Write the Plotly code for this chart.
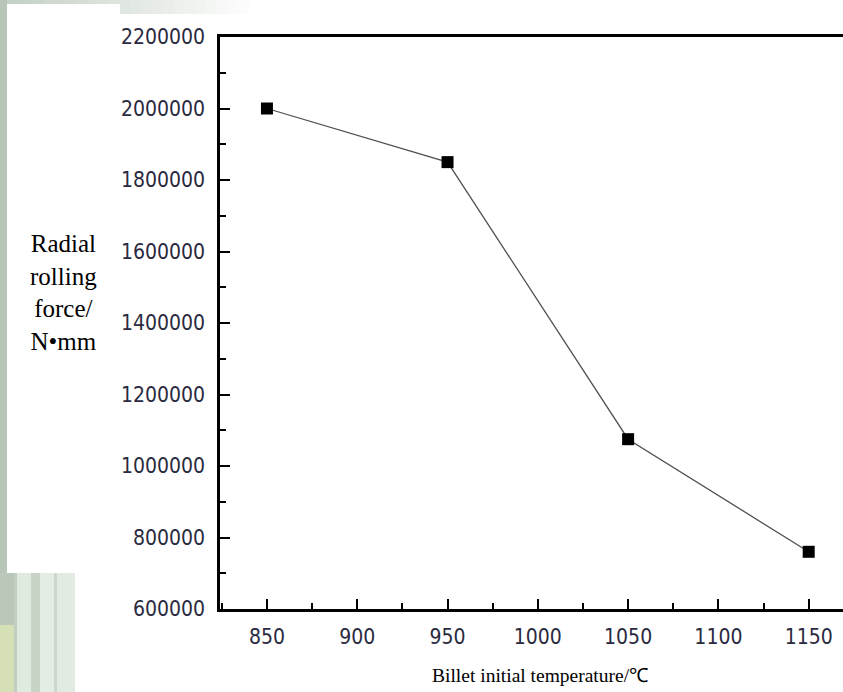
import plotly.graph_objects as go

# ---- data ----
temperature = [850, 950, 1050, 1150]
rolling_force = [2000000, 1850000, 1075000, 760000]
x_tickvals = [850, 900, 950, 1000, 1050, 1100, 1150]
y_tickvals = [600000, 800000, 1000000, 1200000, 1400000, 1600000, 1800000, 2000000, 2200000]

W, H = 843, 692
L, R, T, B = 220, 0, 37, 83
PW, PH = W - L - R, H - T - B


def px(x):
    return (x - L) / PW


def py(y):
    return (H - B - y) / PH


fig = go.Figure()
fig.add_trace(go.Scatter(
    x=temperature, y=rolling_force, mode="lines+markers",
    line=dict(color="#505050", width=1.3),
    marker=dict(symbol="square", size=12, color="black"),
    showlegend=False, cliponaxis=False,
))

shapes = []


def rect(x0, y0, x1, y1, color):
    shapes.append(dict(type="rect", xref="paper", yref="paper",
                       x0=px(x0), x1=px(x1), y0=py(y1), y1=py(y0),
                       fillcolor=color, line=dict(width=0), layer="below"))


# slide-like background decoration
steps = 24
for i in range(steps):
    x0 = i * 260 / steps
    x1 = (i + 1) * 260 / steps
    t = i / (steps - 1)
    r = int(196 + (255 - 196) * t)
    g = int(208 + (255 - 208) * t)
    b = int(196 + (255 - 196) * t)
    rect(x0, 0, x1 + 1, 14, f"rgb({r},{g},{b})")
rect(0, 0, 7, H, "#b7c6b7")
rect(7, 4, 120, 573, "#ffffff")
rect(0, 573, 14, 625, "#b9c8b9")
rect(0, 625, 14, H, "#d6e0b6")
rect(14, 573, 17, H, "#c2cfc0")
rect(17, 573, 31, H, "#e0ebe0")
rect(31, 573, 40, H, "#c7d4c6")
rect(40, 573, 54, H, "#e3ede3")
rect(54, 573, 57, H, "#ccd8cc")
rect(57, 573, 75, H, "#e2ebe2")

tickfont = dict(family="DejaVu Sans Condensed, Liberation Sans Narrow, Arial Narrow, sans-serif",
                size=21, color="#2a2a40")

fig.update_layout(
    width=W, height=H,
    margin=dict(l=L, r=R, t=T, b=B),
    paper_bgcolor="white", plot_bgcolor="white",
    shapes=shapes,
    xaxis=dict(
        range=[824, 1169], tickvals=x_tickvals, ticktext=[str(v) for v in x_tickvals],
        ticks="inside", ticklen=10, tickwidth=2, tickcolor="black",
        minor=dict(dtick=25, tick0=825, ticks="inside", ticklen=6, tickwidth=2, tickcolor="black"),
        showline=True, linecolor="black", linewidth=2.5, mirror=True,
        showgrid=False, zeroline=False, tickfont=tickfont, ticklabelstandoff=7,
    ),
    yaxis=dict(
        range=[600000, 2200000], tickvals=y_tickvals, ticktext=[str(v) for v in y_tickvals],
        ticks="inside", ticklen=10, tickwidth=2, tickcolor="black",
        minor=dict(dtick=100000, tick0=600000, ticks="inside", ticklen=6, tickwidth=2, tickcolor="black"),
        showline=True, linecolor="black", linewidth=2.5, mirror=False,
        showgrid=False, zeroline=False, tickfont=tickfont, ticklabelstandoff=8,
    ),
    annotations=[
        dict(text="Radial<br>rolling<br>force/<br>N•mm", xref="paper", yref="paper",
             x=px(64), y=py(292), xanchor="center", yanchor="middle", showarrow=False,
             align="center",
             font=dict(family="Liberation Serif, Times New Roman, serif", size=25, color="black")),
        dict(text="Billet initial temperature/℃", xref="paper", yref="paper",
             x=px(540), y=py(675), xanchor="center", yanchor="middle", showarrow=False,
             font=dict(family="Liberation Serif, Times New Roman, serif", size=19.5, color="black")),
    ],
)

fig.write_html("out.html", config={"displayModeBar": False},
               post_script="document.body.style.margin='0';document.body.style.overflow='hidden';")
